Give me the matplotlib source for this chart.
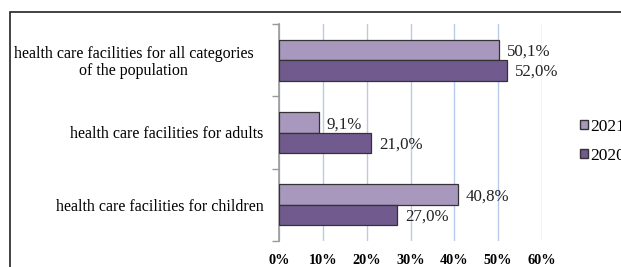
import matplotlib
matplotlib.use("Agg")
import matplotlib.pyplot as plt
from matplotlib.patches import Rectangle, Patch
from matplotlib.transforms import ScaledTranslation
import numpy as np

categories = ["health care facilities for children",
              "health care facilities for adults",
              "health care facilities for all categories\nof the population"]
values_2021 = [40.8, 9.1, 50.1]
values_2020 = [27.0, 21.0, 52.0]
labels_2021 = ["40,8%", "9,1%", "50,1%"]
labels_2020 = ["27,0%", "21,0%", "52,0%"]
xticks = [0, 10, 20, 30, 40, 50, 60]
xticklabels = ["0%", "10%", "20%", "30%", "40%", "50%", "60%"]

plt.rcParams['font.family'] = ['Liberation Serif', 'DejaVu Serif']

W, H = 621, 267
fig = plt.figure(figsize=(W/100, H/100), dpi=100)
fig.patch.set_facecolor('white')

# outer border (cropped at right/bottom)
fig.patches.append(Rectangle((10/W, -0.2), 1.2, 1 - 12/H + 0.2, transform=fig.transFigure,
                             fill=False, edgecolor='#222222', linewidth=1.2))

ax = fig.add_axes([279/W, 1 - 241/H, (542-279)/W, (241-24)/H])
c_light = '#A898BE'
c_dark = '#705A8E'
y = np.arange(len(categories))
bh = 0.285
ax.barh(y + bh/2, values_2021, height=bh, color=c_light, edgecolor='#333333', linewidth=0.9, label='2021', zorder=3)
ax.barh(y - bh/2, values_2020, height=bh, color=c_dark, edgecolor='#333333', linewidth=0.9, label='2020', zorder=3)

for i in range(len(categories)):
    ax.text(values_2021[i] + 1.8, y[i] + bh/2 - 0.03, labels_2021[i], va='center', ha='left', fontsize=12.2, color='#222222')
    ax.text(values_2020[i] + 1.8, y[i] - bh/2 - 0.02, labels_2020[i], va='center', ha='left', fontsize=12.2, color='#222222')

ax.set_xlim(0, 60)
ax.set_ylim(-0.5, 2.5)
ax.set_xticks(xticks)
ax.set_xticklabels(xticklabels, fontweight='bold', fontsize=10.3)
ax.tick_params(axis='x', length=0, pad=9)
ax.xaxis.grid(True, color='#B8CCEA', linewidth=1.0, zorder=0)
ax.set_yticks(y)
ax.set_yticklabels(categories, fontsize=11.5, multialignment='center', linespacing=1.05)
ax.tick_params(axis='y', which='major', length=0, pad=11)
ax.set_yticks([-0.5, 0.5, 1.5, 2.5], minor=True)
ax.tick_params(axis='y', which='minor', length=5, color='#999999', width=1)
for s in ['top', 'right', 'bottom']:
    ax.spines[s].set_visible(False)
ax.spines['left'].set_color('#999999')
ax.spines['left'].set_linewidth(1.2)
ax.set_axisbelow(True)

# the wrapped label sits a little further from the axis
lbl = ax.get_yticklabels()[2]
lbl.set_transform(lbl.get_transform() + ScaledTranslation(-10/100, 0, fig.dpi_scale_trans))

handles = [Patch(facecolor=c_light, edgecolor='#333333', label='2021'),
           Patch(facecolor=c_dark, edgecolor='#333333', label='2020')]
fig.legend(handles=handles, loc='center left', bbox_to_anchor=(580/W, 1 - 141.5/H),
           frameon=False, fontsize=12.5, handlelength=0.45, handleheight=0.45,
           handletextpad=0.15, labelspacing=0.75, borderaxespad=0, borderpad=0)

fig.savefig('out.png', dpi=100)
